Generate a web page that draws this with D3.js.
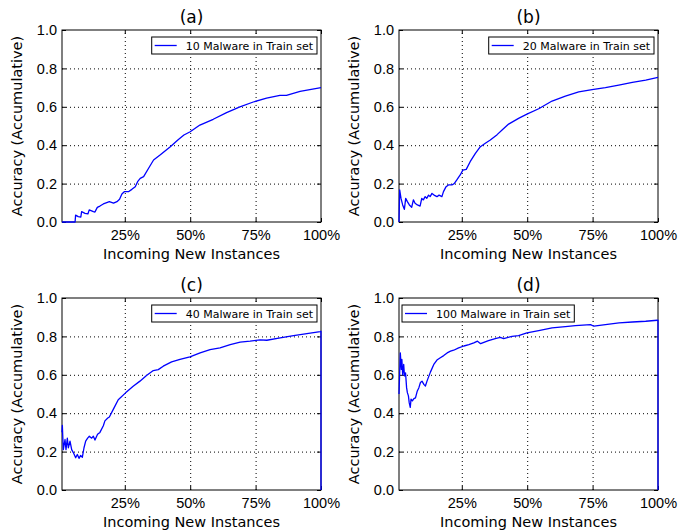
<!DOCTYPE html>
<html>
<head>
<meta charset="utf-8">
<script src="https://cdn.jsdelivr.net/npm/d3@7"></script>
<style>
  body { margin: 0; background: #fff; }
  svg { display: block; font-family: "DejaVu Sans", sans-serif; }
  .grid line { stroke: #000; stroke-width: 1; stroke-dasharray: 1,3; }
  .grid path { display: none; }
  .ax path { display: none; }
  .ax line { stroke: #000; }
  .ax text { font-size: 14.5px; fill: #000; }
</style>
</head>
<body>
<svg width="691" height="531"></svg>
<script>
/*
 * Accuracy: [percent of incoming instances, accumulated accuracy]
 */
var seriesA = [[1,0],[6,0],[6.2,0.036],[7.2,0.028],[8.2,0.026],[8.5,0.054],[9.8,0.045],[10.9,0.042],[11.4,0.063],
  [13,0.054],[13.6,0.052],[14,0.063],[14.5,0.076],[15.5,0.083],[16.8,0.094],[18.1,0.101],[19.1,0.106],[20.7,0.098],
  [22,0.106],[23,0.118],[23.9,0.146],[24.8,0.158],[26.4,0.158],[27.7,0.17],[29,0.184],[29.9,0.21],[30.9,0.227],
  [32.2,0.236],[34.1,0.28],[36,0.323],[38.6,0.35],[42.4,0.392],[45.5,0.43],[47.6,0.453],[50,0.47],[53.7,0.505],
  [58.8,0.535],[63.9,0.57],[69,0.6],[74.1,0.625],[79.2,0.645],[84.3,0.66],[86.8,0.66],[92,0.68],[100,0.70]];

var seriesB = [[1,0],[1.26,0.167],[1.77,0.123],[2.4,0.089],[3.05,0.066],[3.56,0.123],[4.2,0.106],[4.96,0.089],
  [5.86,0.077],[6.5,0.115],[7.14,0.098],[8.03,0.089],[9.06,0.083],[9.7,0.123],[10.3,0.115],[11,0.132],[11.6,0.123],
  [12.3,0.14],[12.9,0.132],[13.6,0.149],[14.4,0.14],[15.5,0.132],[16.3,0.14],[17.4,0.132],[18,0.158],[19,0.184],
  [19.9,0.193],[21.2,0.193],[22.1,0.2],[23.1,0.219],[24.4,0.245],[25.4,0.27],[26.7,0.274],[28.2,0.314],[30.2,0.357],
  [32.1,0.392],[34,0.41],[35.9,0.427],[38.5,0.455],[40.5,0.48],[42.9,0.51],[46.7,0.54],[49.9,0.562],[54.4,0.59],
  [59.5,0.63],[64.6,0.656],[69.7,0.678],[74.8,0.69],[79.9,0.7],[85,0.713],[90.2,0.727],[95.3,0.739],[100,0.753]];

var seriesC = [[1,0.3],[1.13,0.336],[1.5,0.21],[2.15,0.263],[2.53,0.21],[3.04,0.27],[3.42,0.22],[4.06,0.255],
  [4.7,0.21],[5.33,0.195],[6.22,0.168],[6.86,0.185],[7.5,0.165],[8.14,0.18],[8.77,0.17],[9.41,0.22],[10.05,0.255],
  [10.8,0.27],[11.45,0.28],[12.34,0.27],[12.98,0.28],[13.6,0.26],[14.6,0.29],[15.5,0.3],[16.8,0.335],[17.4,0.36],
  [18.5,0.375],[19.1,0.38],[20.6,0.42],[22.5,0.47],[25.3,0.506],[28.2,0.54],[30.8,0.567],[33.3,0.596],[35.9,0.622],
  [37.8,0.627],[39.7,0.645],[42.9,0.667],[46.1,0.68],[49.9,0.693],[53.8,0.714],[57.6,0.731],[61.4,0.74],
  [65.3,0.757],[69.1,0.77],[72.9,0.775],[76.7,0.782],[79.3,0.78],[84.4,0.792],[89.5,0.804],[94.6,0.815],
  [99.7,0.825],[100,0.827],[100,0]];

var seriesD = [[1,0.5],[1.5,0.714],[1.9,0.628],[2.1,0.68],[2.4,0.6],[2.8,0.654],[3.1,0.594],[3.5,0.61],[3.9,0.533],
  [4.2,0.507],[4.6,0.49],[4.9,0.455],[5.3,0.43],[5.6,0.473],[6.1,0.464],[6.7,0.476],[7.3,0.48],[8,0.516],[8.6,0.533],
  [9.2,0.56],[9.8,0.567],[10.5,0.55],[11.1,0.542],[11.7,0.567],[13,0.614],[14.3,0.654],[15.5,0.677],[16.8,0.689],
  [18.1,0.7],[19.4,0.714],[20.7,0.723],[21.9,0.728],[23.8,0.74],[25.8,0.75],[27.7,0.757],[29.6,0.766],[31,0.775],
  [32.2,0.762],[35.2,0.778],[37.8,0.789],[39.7,0.795],[41,0.789],[44.2,0.8],[46.7,0.804],[49.9,0.818],[54.4,0.83],
  [59.5,0.844],[64.6,0.851],[68.4,0.856],[74.2,0.861],[75.5,0.853],[79.9,0.861],[85.1,0.87],[90.2,0.875],
  [95.3,0.879],[99.7,0.884],[100,0.885],[100,0]];

var titles = ["(a)", "(b)", "(c)", "(d)"];
var legendLabels = ["10 Malware in Train set", "20 Malware in Train set", "40 Malware in Train set", "100 Malware in Train set"];
var xTicks = [25, 50, 75, 100];
var yTicks = [0, 0.2, 0.4, 0.6, 0.8, 1.0];

var svg = d3.select("svg"),
    plotW = 259,
    plotH = 192,
/*
 * Panel placement (top-left corner of each plot box) and legend corner
 */
    panels = [
      {data: seriesA, left: 62,  top: 30,  legend: "right"},
      {data: seriesB, left: 399, top: 30,  legend: "right"},
      {data: seriesC, left: 62,  top: 298, legend: "right"},
      {data: seriesD, left: 399, top: 298, legend: "left"}
    ];

panels.forEach(function(p, i) {
  var x = d3.scaleLinear().domain([1, 100]).range([0, plotW]),
      y = d3.scaleLinear().domain([0, 1]).range([plotH, 0]);

  var g = svg.append("g").attr("transform", "translate(" + p.left + "," + p.top + ")");

  // dotted grid
  g.append("g").attr("class", "grid")
    .attr("transform", "translate(0," + plotH + ")")
    .call(d3.axisBottom(x).tickValues(xTicks.slice(0, 3)).tickSize(-plotH).tickFormat(""));
  g.append("g").attr("class", "grid")
    .call(d3.axisLeft(y).tickValues(yTicks.slice(1, 5)).tickSize(-plotW).tickFormat(""));

  // axes, ticks pointing inwards on all four sides
  g.append("g").attr("class", "ax")
    .attr("transform", "translate(0," + plotH + ")")
    .call(d3.axisBottom(x).tickValues(xTicks).tickSize(-4).tickPadding(8).tickFormat(function(d) { return d + "%"; }));
  g.append("g").attr("class", "ax")
    .call(d3.axisLeft(y).tickValues(yTicks).tickSize(-4).tickPadding(5).tickFormat(d3.format(".1f")));
  g.append("g").attr("class", "ax")
    .call(d3.axisTop(x).tickValues(xTicks).tickSize(-4).tickFormat(""));
  g.append("g").attr("class", "ax")
    .attr("transform", "translate(" + plotW + ",0)")
    .call(d3.axisRight(y).tickValues(yTicks).tickSize(-4).tickFormat(""));

  g.append("rect")
    .attr("width", plotW).attr("height", plotH)
    .attr("fill", "none").attr("stroke", "#000").attr("stroke-width", 1);

  // accuracy curve
  g.append("path")
    .datum(p.data)
    .attr("fill", "none")
    .attr("stroke", "#0000ff")
    .attr("stroke-width", 1.3)
    .attr("stroke-linejoin", "round")
    .attr("d", d3.line().x(function(d) { return x(d[0]); }).y(function(d) { return y(d[1]); }));

  // title and axis labels
  g.append("text")
    .attr("x", plotW / 2).attr("y", -7)
    .attr("text-anchor", "middle").style("font-size", "17px")
    .text(titles[i]);
  g.append("text")
    .attr("x", plotW / 2).attr("y", plotH + 37)
    .attr("text-anchor", "middle").style("font-size", "14.5px")
    .text("Incoming New Instances");
  g.append("text")
    .attr("transform", "translate(-40," + (plotH / 2) + ") rotate(-90)")
    .attr("text-anchor", "middle").style("font-size", "14.5px")
    .text("Accuracy (Accumulative)");

  // legend box
  var lg = g.append("g");
  var box = lg.append("rect").attr("fill", "#fff").attr("stroke", "#000").attr("stroke-width", 1);
  lg.append("line")
    .attr("x1", 3).attr("x2", 25).attr("y1", 8.5).attr("y2", 8.5)
    .attr("stroke", "#0000ff").attr("stroke-width", 1.3);
  var txt = lg.append("text")
    .attr("x", 34).attr("y", 12.5)
    .style("font-size", "11px")
    .text(legendLabels[i]);
  var bw = 34 + txt.node().getComputedTextLength() + 4;
  box.attr("width", bw).attr("height", 17);
  var lx = p.legend == "left" ? 3 : plotW - 4 - bw;
  lg.attr("transform", "translate(" + lx + ",7)");
});
</script>
</body>
</html>
